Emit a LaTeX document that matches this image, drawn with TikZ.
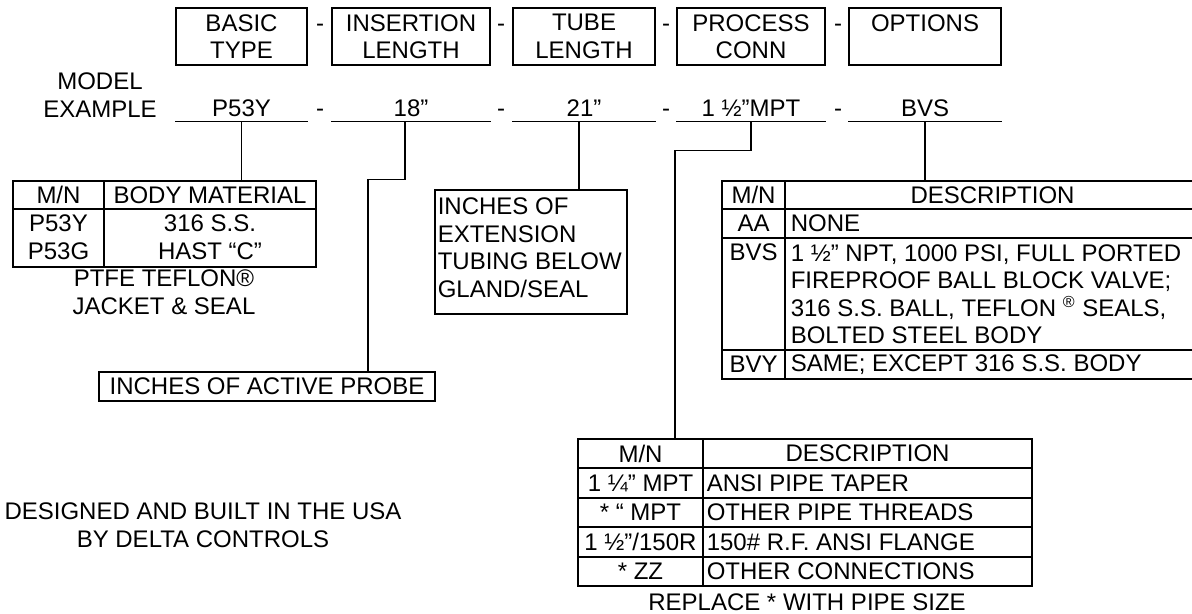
\documentclass[tikz,border=0pt]{standalone}
\usepackage{fontspec}
\setmainfont{Liberation Sans}
\usetikzlibrary{positioning}

\begin{document}
\begin{tikzpicture}[
    x=0.5pt, y=-0.5pt,
    line width=0.75pt,
    every node/.style={font=\fontsize{12}{13.75}\selectfont, inner sep=0pt},
    hbox/.style={draw, align=center, minimum height=28.5pt},
    slot/.style={minimum height=13pt},
    frame/.style={draw, rectangle},
    desc/.style={anchor=west, align=left},
    sepmark/.style={anchor=base}
  ]
  \useasboundingbox (0,0) rectangle (1192,614);

  % header boxes
  \node[hbox, minimum width=65.5pt] (hbasic) at (241.5,36.5) {BASIC\\TYPE};
  \node[hbox, minimum width=79pt]   (hins)   at (411,36.5)   {INSERTION\\LENGTH};
  \node[hbox, minimum width=71pt]   (htube)  at (584,36.5)   {TUBE\\LENGTH};
  \node[hbox, minimum width=74pt]   (hconn)  at (751,36.5)   {PROCESS\\CONN};
  \node[hbox, minimum width=76pt]   (hopt)   at (925,36.5)   {OPTIONS\\\mbox{}};

  % model example row
  \node[align=center] (model) at (100,95) {MODEL\\EXAMPLE};
  \node[slot, minimum width=65.5pt] (vtype) at (241.5,108) {P53Y};
  \node[slot, minimum width=79pt]   (vins)  at (411,108)   {18”};
  \node[slot, minimum width=71pt]   (vtube) at (584,108)   {21”};
  \node[slot, minimum width=74pt]   (vconn) at (751,108)   {1 ½"MPT};
  \node[slot, minimum width=76pt]   (vopt)  at (925,108)   {BVS};
  \foreach \n in {vtype,vins,vtube,vconn,vopt}
    \draw (\n.south west) -- (\n.south east);
  \foreach \x [count=\i] in {320,501,666,838} {
    \node[sepmark] (hd\i) at (\x,32) {-};
    \node[sepmark] (vd\i) at (\x,117) {-};
  }

  % body material table
  \node[frame, minimum width=151.5pt, minimum height=43pt] (bodytab) at (164.5,224) {};
  \draw (104,181) -- (104,267);
  \draw (13,209) -- (316,209);
  \node (bmn)  at (58.5,195) {M/N};
  \node (bmat) at (210,195)  {BODY MATERIAL};
  \node (by)   at (58.5,223.5) {P53Y};
  \node (bg)   at (58.5,251.5) {P53G};
  \node (bys)  at (210,223.5)  {316 S.S.};
  \node (bgs)  at (210,251.5)  {HAST “C”};
  \node[align=center] (bodynote) at (164,292) {PTFE TEFLON®\\JACKET \& SEAL};

  % insertion and tube notes
  \node[frame, minimum width=168pt, minimum height=14.5pt] (probe) at (267,386.5) {INCHES OF ACTIVE PROBE};
  \node[frame, minimum width=96pt, minimum height=62pt] (extbox) at (531,252) {};
  \node[anchor=north west, align=left] (exttext) at (437,197) {INCHES OF\\EXTENSION\\TUBING BELOW\\GLAND/SEAL};

  % options table
  \node[frame, minimum width=239pt, minimum height=99pt] (opttab) at (961,280) {};
  \draw (785,181) -- (785,379);
  \foreach \y in {209,238,350}
    \draw (722,\y) -- (1200,\y);
  \node (omn)   at (753.5,195)   {M/N};
  \node (odesc) at (992.5,195)   {DESCRIPTION};
  \node (oaa)   at (753.5,223.5) {AA};
  \node[desc] (oaat) at (790,223.5) {NONE};
  \node (obvs)  at (753.5,252)   {BVS};
  \node[desc] (obvst) at (790,294) {1 ½” NPT, 1000 PSI, FULL PORTED\\FIREPROOF BALL BLOCK VALVE;\\316 S.S. BALL, TEFLON \textsuperscript{®} SEALS,\\BOLTED STEEL BODY};
  \node (obvy)  at (753.5,364.5) {BVY};
  \node[desc] (obvyt) at (790,364.5) {SAME; EXCEPT 316 S.S. BODY};

  % process connection table
  \node[frame, minimum width=227pt, minimum height=73.5pt] (conntab) at (805,512.5) {};
  \draw (703,439) -- (703,586);
  \foreach \y in {468,498,527,557}
    \draw (578,\y) -- (1032,\y);
  \node (cmn)   at (640.5,453.5) {M/N};
  \node (cdesc) at (867.5,453.5) {DESCRIPTION};
  \node (c1)  at (640.5,483)   {1 ¼” MPT};
  \node (c2)  at (640.5,512.5) {* “ MPT};
  \node (c3)  at (640.5,542)   {1 ½”/150R};
  \node (c4)  at (640.5,571.5) {* ZZ};
  \node[desc] (c1t) at (706,483)   {ANSI PIPE TAPER};
  \node[desc] (c2t) at (706,512.5) {OTHER PIPE THREADS};
  \node[desc] (c3t) at (706,542)   {150\# R.F. ANSI FLANGE};
  \node[desc] (c4t) at (706,571.5) {OTHER CONNECTIONS};
  \node (connnote) at (807,602) {REPLACE * WITH PIPE SIZE};

  \node[align=center] (maker) at (203,525) {DESIGNED AND BUILT IN THE USA\\BY DELTA CONTROLS};

  % connectors
  \draw (vtype.south) -- (vtype.south |- bodytab.north);
  \draw ([xshift=-3pt]vins.south) -- ++(0,58) -| ([xshift=50.5pt]probe.north);
  \draw ([xshift=-2.5pt]vtube.south) -- ([xshift=-2.5pt]vtube.south |- extbox.north);
  \draw (vconn.south) -- ++(0,29) -| ([xshift=-65pt]conntab.north);
  \draw (vopt.south) -- (vopt.south |- opttab.north);
\end{tikzpicture}
\end{document}
